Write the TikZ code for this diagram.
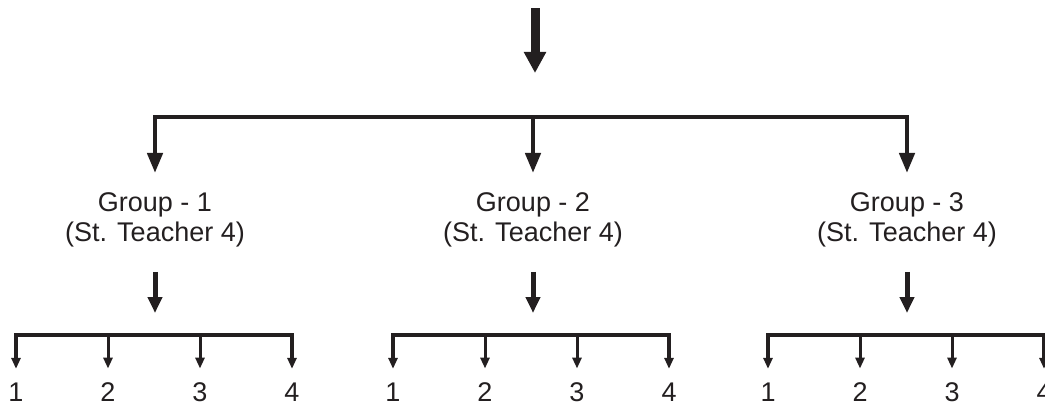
\documentclass[tikz,border=0pt]{standalone}
\usepackage{fontspec}
\setmainfont{Liberation Sans}
\usetikzlibrary{arrows.meta}
\definecolor{ink}{HTML}{231F20}

\begin{document}
\begin{tikzpicture}[
    x=0.025cm, y=-0.025cm,
    ink, line join=miter,
    grp/.style = {align=center, inner sep=0pt, anchor=north, text=ink,
                  font=\fontsize{19.2}{21.3}\selectfont},
    num/.style = {inner sep=0pt, anchor=base, text=ink,
                  font=\fontsize{19.2}{21.3}\selectfont},
    bigarr/.style = {line width=0.225cm, -{Triangle[length=0.525cm,width=0.525cm]}},
    fork/.style = {line width=0.11cm, shorten <=0.475cm, shorten >=0.475cm,
                   {Triangle[length=0.5cm,width=0.375cm]}-{Triangle[length=0.5cm,width=0.375cm]}},
    drop/.style = {line width=0.11cm, shorten >=0.475cm, -{Triangle[length=0.5cm,width=0.375cm]}},
    midarr/.style = {line width=0.125cm, shorten <=0.625cm, -{Triangle[length=0.4cm,width=0.35cm]}},
    subfork/.style = {line width=0.085cm, shorten <=0.345cm, shorten >=0.345cm,
                      {Triangle[length=0.275cm,width=0.225cm]}-{Triangle[length=0.275cm,width=0.225cm]}},
    subdrop/.style = {line width=0.075cm, shorten >=0.345cm, -{Triangle[length=0.275cm,width=0.225cm]}},
]

\useasboundingbox (0,0) rectangle (1045,403);
\clip (0,0) rectangle (1045,403);

% Input arrow
\coordinate (src) at (535,8);
\coordinate (srcTip) at (535,73);
\draw[bigarr] (src) -- (srcTip);

% Groups and their members
\foreach \g/\x/\lx in {1/155/16, 2/533/393, 3/907/768} {
    \node[grp] (g\g) at (\x,192) {Group - \g\\(St. Teacher 4)};
    \coordinate (g\g-out) at (\x,313);
    \draw[midarr] (g\g.south) -- (g\g-out);

    \foreach \i in {1,...,4}
        \node[num] (n\g\i) at ({\lx+92*(\i-1)},401.5) {\i};

    \coordinate (b\g) at (\x,335);
    \draw[subfork] (n\g1.north) |- (b\g) -| (n\g4.north);
    \foreach \i in {2,3}
        \draw[subdrop] (b\g -| n\g\i.north) -- (n\g\i.north);
}

% Split into groups
\coordinate (split) at (533,117);
\draw[fork] (g1.north) |- (split) -| (g3.north);
\draw[drop] (split) -- (g2.north);

\end{tikzpicture}
\end{document}
